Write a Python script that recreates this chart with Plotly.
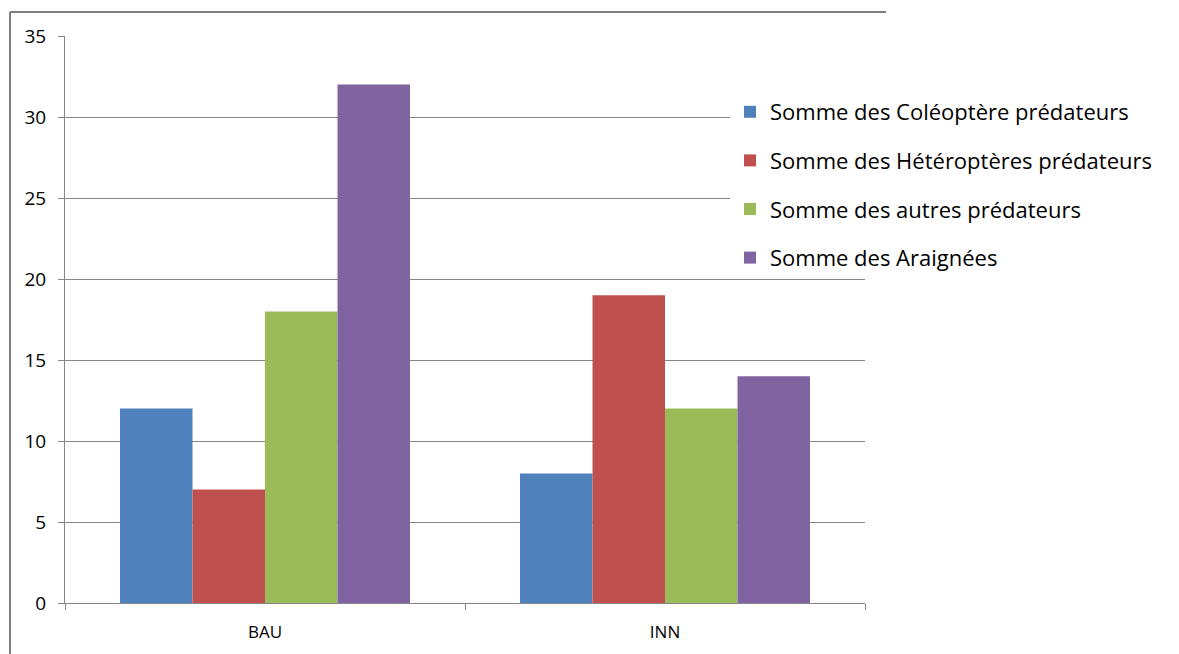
import plotly.graph_objects as go

categories = ["BAU", "INN"]
series_names = [
    "Somme des Coléoptère prédateurs",
    "Somme des Hétéroptères prédateurs",
    "Somme des autres prédateurs",
    "Somme des Araignées",
]
coleopteres = [12, 8]
heteropteres = [7, 19]
autres = [18, 12]
araignees = [32, 14]
y_ticks = [0, 5, 10, 15, 20, 25, 30, 35]

colors = ["#4F81BD", "#C0504D", "#9BBB59", "#8064A2"]
series_values = [coleopteres, heteropteres, autres, araignees]

fig = go.Figure()
for i, (name, vals) in enumerate(zip(series_names, series_values)):
    fig.add_trace(go.Bar(
        x=categories, y=vals, name=name, marker_color=colors[i],
        marker_line_width=0, legendgroup=f"g{i}",
    ))

grey = "#868686"
# page body has an 8px margin, so the figure is drawn 8px in from the window edge
fig.update_layout(
    width=1171, height=646,
    margin=dict(l=57, r=314, t=28, b=51),
    paper_bgcolor="white", plot_bgcolor="white",
    barmode="group", bargap=0.275, bargroupgap=0,
    font=dict(family="Open Sans", color="black"),
    legend=dict(
        x=(730 - 65) / 800, xanchor="left",
        y=(603 - 91) / 567, yanchor="top",
        bgcolor="white", font=dict(size=22, family="Open Sans"),
        traceorder="grouped", tracegroupgap=17,
    ),
    showlegend=True,
)
fig.update_yaxes(
    range=[0, 35], tickvals=y_ticks, showgrid=True, gridcolor=grey, gridwidth=1,
    showline=True, linecolor=grey, linewidth=1, ticks="outside", ticklen=6,
    tickcolor=grey, tickfont=dict(size=19), zeroline=False, ticklabelstandoff=8,
)
fig.update_xaxes(
    showline=True, linecolor=grey, linewidth=1, ticks="outside", ticklen=6,
    tickcolor=grey, tickson="boundaries", tickfont=dict(size=17),
    ticklabelstandoff=14,
)

# outer chart frame (left and top edges)
x0 = (10 - 65) / 800
x1 = (886 - 65) / 800
ytop = (603 - 12) / 567
ybot = (603 - 660) / 567
fig.add_shape(type="line", xref="paper", yref="paper", x0=x0, x1=x0, y0=ybot, y1=ytop,
              line=dict(color="#808080", width=2))
fig.add_shape(type="line", xref="paper", yref="paper", x0=x0, x1=x1, y0=ytop, y1=ytop,
              line=dict(color="#808080", width=2))

fig.write_html("out.html")
